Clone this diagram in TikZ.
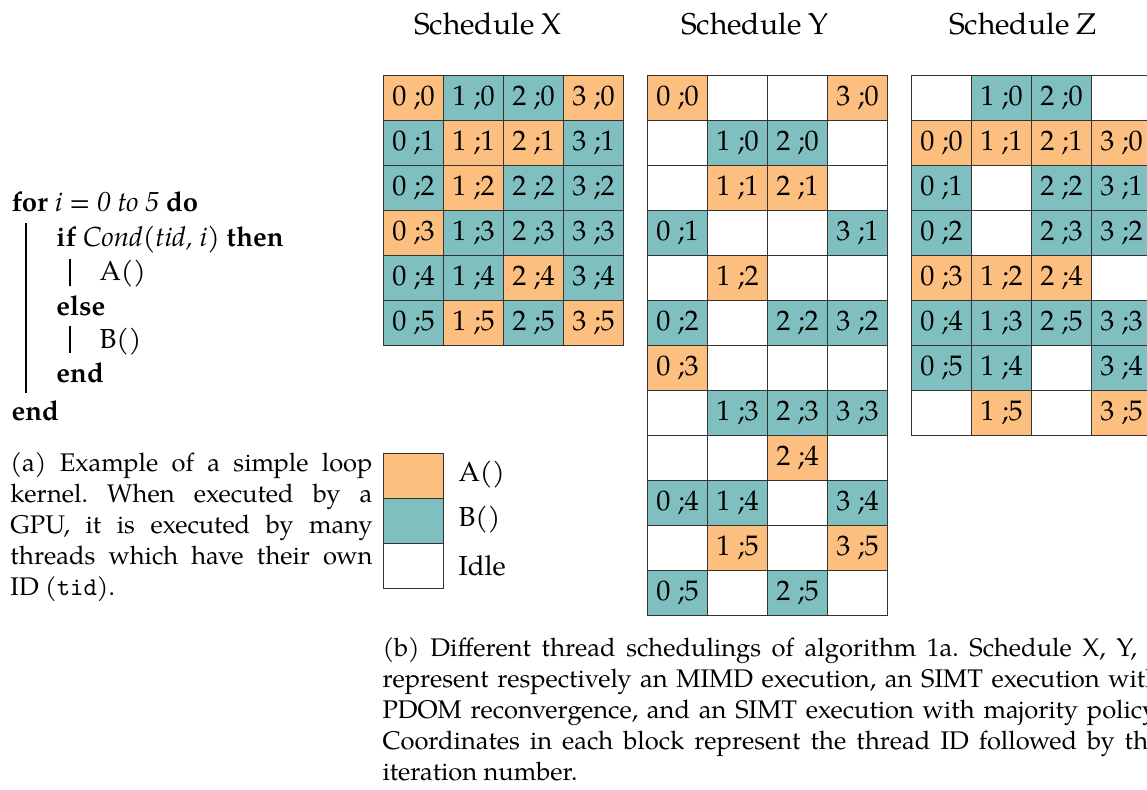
\documentclass[tikz,border=0pt]{standalone}
\usepackage{fontspec}
\setmainfont{texgyrepagella}[Extension=.otf, UprightFont=*-regular, BoldFont=*-bold, ItalicFont=*-italic, BoldItalicFont=*-bolditalic]
\frenchspacing
\newdimen\px \px=0.4pt
\definecolor{aorange}{RGB}{253,191,128}
\definecolor{bteal}{RGB}{127,191,191}
\def\typeI{I}
\def\parsecell#1#2\relax{\def\ctype{#1}\def\citer{#2}%
  \if#1A\def\cfill{aorange}\else\if#1B\def\cfill{bteal}\else\def\cfill{white}\fi\fi}
\newcommand\schedgrid[3]{%
  \foreach \row [count=\rr from 0] in {#3} {%
    \foreach \s [count=\cc from 0] in \row {%
      \expandafter\parsecell\s\relax
      \node[cellbox, fill=\cfill] (#1-\rr-\cc) at ({#2+60*\cc},{75+45*\rr})
        {\ifx\ctype\typeI\else\cc\ ;\citer\fi};
    }%
  }%
}
\tikzset{
  cellbox/.style={draw=black!80, line width=0.5pt, minimum width=60\px,
    minimum height=45\px, inner sep=0pt, anchor=north west,
    font=\fontsize{11.3}{13}\selectfont},
  titletext/.style={inner sep=0pt, font=\fontsize{12}{14}\selectfont},
  captext/.style={inner sep=0pt, anchor=base west, font=\fontsize{10.2}{12.4}\selectfont},
  algtext/.style={inner sep=0pt, anchor=base west, font=\fontsize{11}{13}\selectfont},
  legtext/.style={inner sep=0pt, anchor=west, font=\fontsize{11}{13}\selectfont},
  algrule/.style={line width=0.45pt, black},
}
\begin{document}
\begin{tikzpicture}[x=0.4pt, y=-0.4pt]
\path[use as bounding box, clip] (0,0) rectangle (1147,790);
\fill[white] (0,0) rectangle (1147,790);

% titles
\node[titletext] (titleX) at (488,24) {Schedule X};
\node[titletext] (titleY) at (755,24) {Schedule Y};
\node[titletext] (titleZ) at (1023,24) {Schedule Z};

% grids
\schedgrid{X}{383}{{A0,B0,B0,A0},{B1,A1,A1,B1},{B2,A2,B2,B2},{A3,B3,B3,B3},{B4,B4,A4,B4},{B5,A5,B5,A5}}
\schedgrid{Y}{647}{{A0,I,I,A0},{I,B0,B0,I},{I,A1,A1,I},{B1,I,I,B1},{I,A2,I,I},{B2,I,B2,B2},{A3,I,I,I},{I,B3,B3,B3},{I,I,A4,I},{B4,B4,I,B4},{I,A5,I,A5},{B5,I,B5,I}}
\schedgrid{Z}{911}{{I,B0,B0,I},{A0,A1,A1,A0},{B1,I,B2,B1},{B2,I,B3,B2},{A3,A2,A4,I},{B4,B3,B5,B3},{B5,B4,I,B4},{I,A5,I,A5}}

% algorithm
\node[algtext] (alg1) at (11,212) {\textbf{for} \textit{i} = \textit{0 to 5} \textbf{do}};
\node[algtext] (alg2) at (56,247) {\textbf{if} \textit{Cond(tid, i)} \textbf{then}};
\node[algtext] (alg3) at (99,281) {A()};
\node[algtext] (alg4) at (56,316) {\textbf{else}};
\node[algtext] (alg5) at (99,349) {B()};
\node[algtext] (alg6) at (56,383) {\textbf{end}};
\node[algtext] (alg7) at (11,421) {\textbf{end}};
\draw[algrule] (26,223) -- (26,393);
\draw[algrule] (70,259) -- (70,286);
\draw[algrule] (70,326) -- (70,353);

% caption (a)
\node[captext] (capa1) at (10,472) {\makebox[362\px][s]{(a) Example of a simple loop}};
\node[captext] (capa2) at (10,503) {\makebox[362\px][s]{kernel. When executed by a}};
\node[captext] (capa3) at (10,534) {\makebox[362\px][s]{GPU, it is executed by many}};
\node[captext] (capa4) at (10,565) {\makebox[362\px][s]{threads which have their own}};
\node[captext] (capa5) at (10,596) {ID (\texttt{tid}).};

% legend
\node[cellbox, fill=aorange] (legA) at (383,453) {};
\node[cellbox, fill=bteal] (legB) at (383,498) {};
\node[cellbox, fill=white] (legI) at (383,543) {};
\node[legtext] (legAt) at (458,475) {A()};
\node[legtext] (legBt) at (458,520) {B()};
\node[legtext] (legIt) at (458,566) {Idle};

% caption (b)
\node[captext] (capb1) at (382,657) {\makebox[782\px][s]{(b) Different thread schedulings of algorithm 1a. Schedule X, Y, Z}};
\node[captext] (capb2) at (382,688) {\makebox[778\px][s]{represent respectively an MIMD execution, an SIMT execution with}};
\node[captext] (capb3) at (382,719) {\makebox[778\px][s]{PDOM reconvergence, and an SIMT execution with majority policy.}};
\node[captext] (capb4) at (382,750) {\makebox[778\px][s]{Coordinates in each block represent the thread ID followed by the}};
\node[captext] (capb5) at (382,781) {iteration number.};
\end{tikzpicture}
\end{document}
